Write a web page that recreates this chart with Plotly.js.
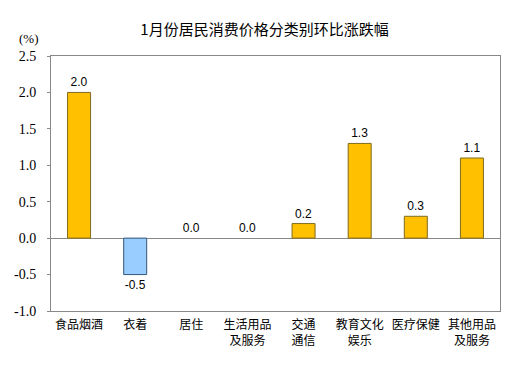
<!DOCTYPE html>
<html><head><meta charset="utf-8">
<script src="https://cdn.plot.ly/plotly-3.0.1.min.js"></script>
<style>html,body{margin:0;padding:0;background:#fff}#c{width:529px;height:378px}</style>
</head><body><div id="c"></div>
<script>
const categories = ["食品烟酒","衣着","居住","生活用品<br>及服务","交通<br>通信","教育文化<br>娱乐","医疗保健","其他用品<br>及服务"];
const values = [2.0, -0.5, 0.0, 0.0, 0.2, 1.3, 0.3, 1.1];
const yTicks = [-1.0, -0.5, 0.0, 0.5, 1.0, 1.5, 2.0, 2.5];

const fill = values.map(v => v < 0 ? "#99CCFF" : "#FFC000");
const edge = values.map(v => v < 0 ? "#35577A" : "#7F6A1E");
const edgeW = values.map(v => v === 0 ? 0 : 1);

const trace = {
  type: "bar", x: categories, y: values,
  marker: {color: fill, line: {color: edge, width: edgeW}},
  width: 0.41,
  texttemplate: "%{y:.1f}", textposition: "outside", cliponaxis: false,
  textfont: {family: "Liberation Sans", size: 12, color: "#000"},
  hoverinfo: "none"
};

const layout = {
  width: 529, height: 378,
  margin: {l: 51, r: 29, t: 56, b: 67},
  paper_bgcolor: "#fff", plot_bgcolor: "#fff",
  showlegend: false,
  title: {text: "1月份居民消费价格分类别环比涨跌幅", x: 0.5, xanchor: "center", y: 0.92, yanchor: "middle",
    font: {family: "Noto Sans CJK SC", size: 15, color: "#000"}},
  xaxis: {
    showline: true, mirror: true, linecolor: "#888", linewidth: 1,
    ticks: "", showgrid: false, zeroline: false, ticklabelstandoff: 3,
    tickfont: {family: "Noto Sans CJK SC", size: 12, color: "#000"},
    fixedrange: true
  },
  yaxis: {
    range: [-1.0, 2.5], tickvals: yTicks, ticktext: yTicks.map(v => v.toFixed(1)),
    showline: true, mirror: true, linecolor: "#888", linewidth: 1,
    ticks: "outside", ticklen: 3, tickcolor: "#888", ticklabelstandoff: 8,
    showgrid: false, zeroline: true, zerolinecolor: "#888", zerolinewidth: 1,
    tickfont: {family: "Liberation Serif", size: 14, color: "#000"},
    fixedrange: true
  },
  annotations: [{text: "(%)", xref: "paper", yref: "paper", x: -0.022, y: 1.03, xanchor: "right", yanchor: "bottom",
    showarrow: false, font: {family: "Liberation Serif", size: 13, color: "#000"}}]
};

Plotly.newPlot("c", [trace], layout, {displayModeBar: false, staticPlot: true});
</script></body></html>
